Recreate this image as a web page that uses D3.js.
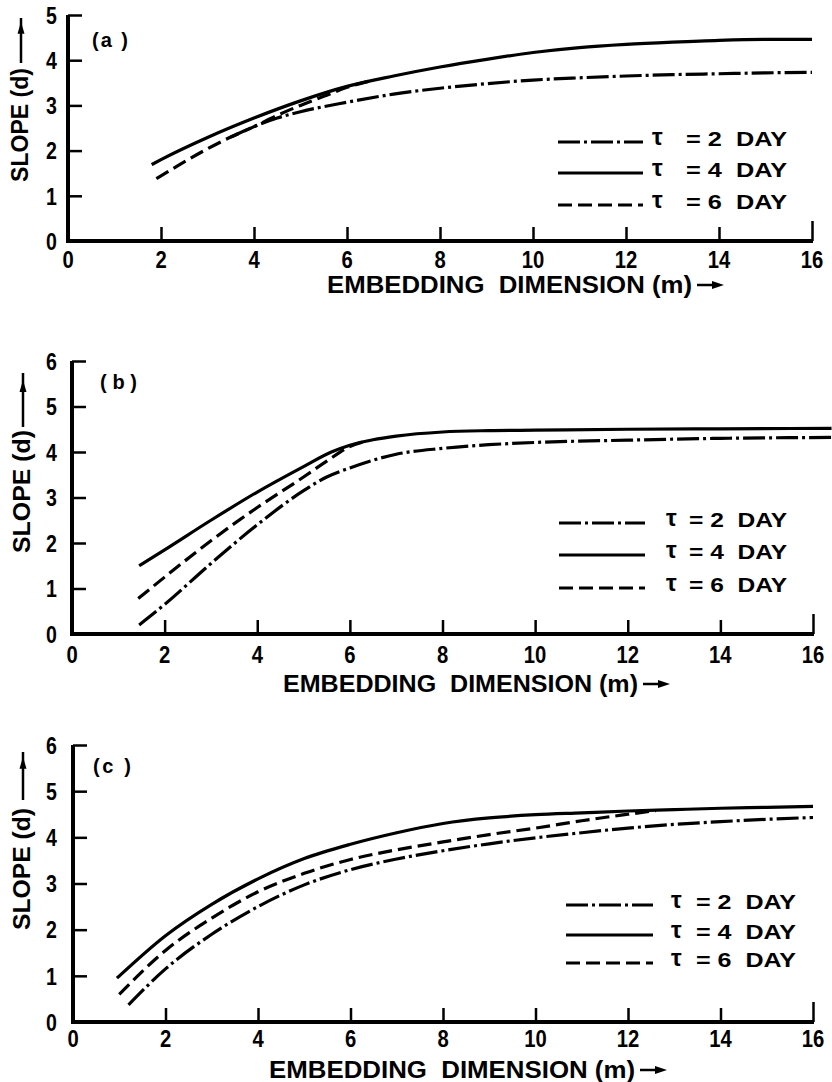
<!DOCTYPE html>
<html>
<head>
<meta charset="utf-8">
<script src="https://cdn.jsdelivr.net/npm/d3@7"></script>
<style>
  html, body { margin: 0; padding: 0; background: #fff; }
  svg { display: block; }
  text { font-family: "Liberation Sans", Arial, sans-serif; font-weight: bold; fill: #000; }
</style>
</head>
<body>
<svg id="chart" width="832" height="1082"></svg>
<script>
// ---------------- DATA ----------------
const xTickValues = [0, 2, 4, 6, 8, 10, 12, 14, 16];
const yTicksA = [0, 1, 2, 3, 4, 5];
const yTicksBC = [0, 1, 2, 3, 4, 5, 6];
const panelLabels = ["(a )", "(b)", "(c )"];
const tauLabels = ["2", "4", "6"];            // τ = 2, 4, 6 DAY
const xTitle = "EMBEDDING  DIMENSION (m)";
const yTitle = "SLOPE (d)";

// panel (a)  [m, d]
const a_tau2 = [[3.5,2.30],[4,2.53],[4.5,2.72],[5,2.86],[6,3.07],[7,3.25],[8,3.38],[9,3.48],[10,3.56],[11,3.61],[12,3.65],[13,3.68],[14,3.70],[15,3.72],[16,3.73]];
const a_tau4 = [[1.8,1.69],[2,1.80],[3,2.29],[4,2.72],[5,3.10],[6,3.42],[7,3.65],[8,3.85],[9,4.02],[10,4.17],[11,4.28],[12,4.35],[13,4.40],[14,4.44],[15,4.46],[16,4.46]];
const a_tau6 = [[1.9,1.38],[2,1.44],[2.5,1.75],[3,2.04],[3.5,2.30],[4,2.53],[4.5,2.78],[5,3.00],[5.5,3.20],[6,3.40],[6.5,3.54]];

// panel (b)
const b_tau2 = [[1.45,0.20],[2,0.65],[3,1.55],[4,2.40],[5,3.15],[5.5,3.45],[6,3.65],[6.5,3.82],[7,3.95],[8,4.08],[9,4.16],[10,4.21],[12,4.26],[14,4.30],[16.4,4.32]];
const b_tau4 = [[1.45,1.50],[2,1.85],[3,2.50],[4,3.12],[5,3.68],[5.6,4.00],[6,4.15],[6.5,4.27],[7,4.35],[8,4.44],[9,4.47],[10,4.48],[12,4.50],[14,4.51],[16.4,4.52]];
const b_tau6 = [[1.43,0.78],[2,1.25],[3,2.05],[4,2.78],[5,3.45],[5.5,3.80],[6,4.12],[6.4,4.25]];

// panel (c)
const c_tau2 = [[1.2,0.37],[2,1.15],[3,1.90],[4,2.50],[5,2.97],[6,3.30],[7,3.53],[8,3.71],[9,3.86],[10,3.99],[11,4.10],[12,4.20],[13,4.28],[14,4.34],[15,4.39],[16,4.43]];
const c_tau4 = [[0.95,0.95],[2,1.87],[3,2.55],[4,3.10],[5,3.54],[6,3.85],[7,4.10],[8,4.30],[9,4.42],[10,4.49],[11,4.53],[12,4.57],[13,4.60],[14,4.63],[15,4.65],[16,4.67]];
const c_tau6 = [[1.0,0.60],[2,1.55],[3,2.25],[4,2.82],[5,3.22],[6,3.52],[7,3.73],[8,3.90],[9,4.06],[10,4.20],[11,4.36],[12,4.50],[12.6,4.58]];

// ---------------- LAYOUT / STYLE ----------------
const dashStyles = ["22,4,3,4", null, "14,6"];   // τ=2 dash-dot, τ=4 solid, τ=6 dashed

const panels = [
  { label: panelLabels[0], yTicks: yTicksA, series: [a_tau2, a_tau4, a_tau6],
    xr: [68, 812], yr: [241, 15], labelPos: [92, 47, 36],
    xTitlePos: [327, 293, 365], yTitlePos: [20, 182, 114], yArrow: [63, 18],
    tickLabelY: 268,
    legend: { x1: 558, x2: 643, rows: [142, 173, 205], tauX: 652, textX: 686, textEnd: 787 } },
  { label: panelLabels[1], yTicks: yTicksBC, series: [b_tau2, b_tau4, b_tau6],
    xr: [72, 813], yr: [634, 361], labelPos: [100, 389, 37],
    xTitlePos: [283, 692, 355], yTitlePos: [22, 553, 123], yArrow: [427, 373],
    tickLabelY: 663,
    legend: { x1: 559, x2: 645, rows: [523, 555, 588], tauX: 666, textX: 689, textEnd: 787 } },
  { label: panelLabels[2], yTicks: yTicksBC, series: [c_tau2, c_tau4, c_tau6],
    xr: [73, 813], yr: [1022, 745], labelPos: [93, 773, 38],
    xTitlePos: [269, 1078, 366], yTitlePos: [22, 930, 122], yArrow: [800, 752],
    tickLabelY: 1047,
    legend: { x1: 566, x2: 653, rows: [905, 935, 963], tauX: 671, textX: 696, textEnd: 796 } }
];

const svg = d3.select("#chart");

panels.forEach(p => {
  const yMax = d3.max(p.yTicks);
  const x = d3.scaleLinear().domain([0, 16]).range(p.xr);
  const y = d3.scaleLinear().domain([0, yMax]).range(p.yr);
  const g = svg.append("g");

  // x axis ticks (pointing up)
  const xAxis = d3.axisBottom(x).tickValues(xTickValues.filter(v => v > 0))
    .tickSizeInner(-14).tickSizeOuter(0).tickPadding(0).tickFormat(d3.format("d"));
  const gx = g.append("g").attr("transform", `translate(0,${p.yr[0]})`).call(xAxis);
  gx.select(".domain").remove();
  gx.selectAll(".tick line").attr("stroke", "#000").attr("stroke-width", 2.5)
    .attr("y2", d => d === 16 ? -20 : -14);
  gx.selectAll(".tick text").remove();
  // x tick labels (including 0)
  g.selectAll(".xtl").data(xTickValues).enter().append("text")
    .attr("text-anchor", "middle").attr("font-size", 23)
    .attr("transform", d => `translate(${x(d)},${p.tickLabelY}) scale(0.88,1)`)
    .text(d => d);
  // x axis line
  g.append("line").attr("x1", x(0) - 2).attr("x2", x(16) + 1)
    .attr("y1", y(0)).attr("y2", y(0)).attr("stroke", "#000").attr("stroke-width", 4);

  // y axis ticks (pointing right)
  const yAxis = d3.axisLeft(y).tickValues(p.yTicks).tickSizeInner(-14).tickSizeOuter(0)
    .tickPadding(0).tickFormat(d3.format("d"));
  const gy = g.append("g").attr("transform", `translate(${p.xr[0]},0)`).call(yAxis);
  gy.select(".domain").remove();
  gy.selectAll(".tick line").attr("stroke", "#000").attr("stroke-width", 2.5);
  gy.selectAll(".tick text").attr("x", null).attr("dy", "0.36em")
    .attr("transform", `translate(${57 - p.xr[0]},0) scale(0.85,1)`)
    .attr("font-size", 23).attr("fill", "#000");
  g.append("line").attr("x1", x(0)).attr("x2", x(0))
    .attr("y1", y(yMax)).attr("y2", y(0) + 2).attr("stroke", "#000").attr("stroke-width", 4);

  // curves
  const line = d3.line().x(d => x(d[0])).y(d => y(d[1])).curve(d3.curveMonotoneX);
  p.series.forEach((s, i) => {
    g.append("path").datum(s).attr("d", line)
      .attr("fill", "none").attr("stroke", "#000").attr("stroke-width", 3.2)
      .attr("stroke-dasharray", dashStyles[i]);
  });

  // panel label
  g.append("text").attr("x", p.labelPos[0]).attr("y", p.labelPos[1])
    .attr("font-size", 20).attr("textLength", p.labelPos[2]).attr("lengthAdjust", "spacing")
    .style("white-space", "pre").text(p.label);

  // x title with arrow
  const [tx, ty, tw] = p.xTitlePos;
  g.append("text").attr("x", tx).attr("y", ty).attr("font-size", 24)
    .attr("textLength", tw).attr("lengthAdjust", "spacingAndGlyphs")
    .style("white-space", "pre").text(xTitle);
  const ay = ty - 8;
  const ax0 = tx + tw + 5, ax1 = ax0 + 27;
  g.append("line").attr("x1", ax0).attr("x2", ax1 - 8).attr("y1", ay).attr("y2", ay)
    .attr("stroke", "#000").attr("stroke-width", 2.5);
  g.append("path").attr("d", `M${ax1 - 12},${ay - 4} L${ax1},${ay} L${ax1 - 12},${ay + 4} Z`).attr("fill", "#000");

  // y title with arrow
  const [yx, yy, yl] = p.yTitlePos;
  g.append("text").attr("transform", `translate(${yx + 8},${yy}) rotate(-90)`)
    .attr("font-size", 23).attr("textLength", yl).attr("lengthAdjust", "spacingAndGlyphs")
    .text(yTitle);
  const [yb, yt] = p.yArrow;
  const axx = yx + 1;
  g.append("line").attr("x1", axx).attr("x2", axx).attr("y1", yb).attr("y2", yt)
    .attr("stroke", "#000").attr("stroke-width", 2.5);
  const ah = yt + (yb - yt) * 0.35;
  g.append("path").attr("d", `M${axx - 3.5},${ah} L${axx},${ah - 12} L${axx + 3.5},${ah} Z`).attr("fill", "#000");

  // legend
  const L = p.legend;
  tauLabels.forEach((t, i) => {
    const ry = L.rows[i];
    g.append("line").attr("x1", L.x1).attr("x2", L.x2).attr("y1", ry).attr("y2", ry)
      .attr("stroke", "#000").attr("stroke-width", 3).attr("stroke-dasharray", dashStyles[i]);
    g.append("text").attr("x", L.tauX).attr("y", ry + 3).attr("font-size", 24)
      .attr("font-family", "DejaVu Serif, serif").attr("font-weight", "bold").text("τ");
    g.append("text").attr("x", L.textX).attr("y", ry + 4).attr("font-size", 21)
      .attr("textLength", L.textEnd - L.textX).attr("lengthAdjust", "spacingAndGlyphs")
      .style("white-space", "pre").text(`= ${t}  DAY`);
  });
});
</script>
</body>
</html>
